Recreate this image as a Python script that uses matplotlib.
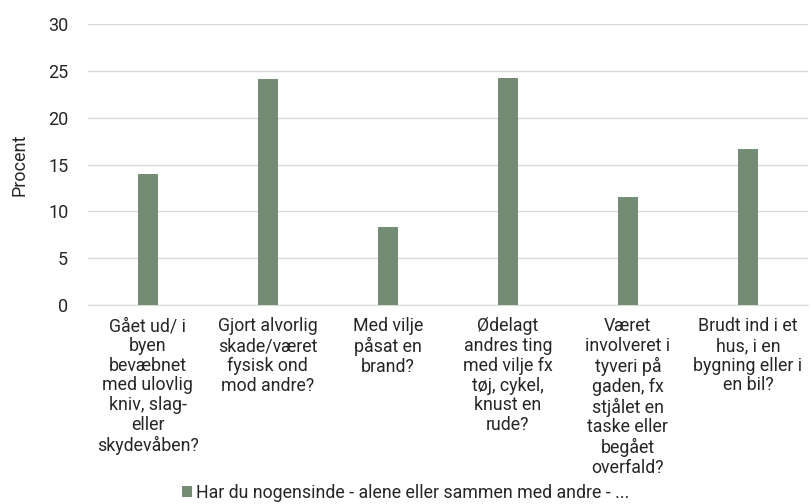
import matplotlib
matplotlib.use("Agg")
import matplotlib.pyplot as plt
from matplotlib.patches import Patch

categories = [
    "Gået ud/ i\nbyen\nbevæbnet\nmed ulovlig\nkniv, slag-\neller\nskydevåben?",
    "Gjort alvorlig\nskade/været\nfysisk ond\nmod andre?",
    "Med vilje\npåsat en\nbrand?",
    "Ødelagt\nandres ting\nmed vilje fx\ntøj, cykel,\nknust en\nrude?",
    "Været\ninvolveret i\ntyveri på\ngaden, fx\nstjålet en\ntaske eller\nbegået\noverfald?",
    "Brudt ind i et\nhus, i en\nbygning eller i\nen bil?",
]
values = [14.0, 24.1, 8.3, 24.2, 11.5, 16.7]
yticks = [0, 5, 10, 15, 20, 25, 30]
series_name = "Har du nogensinde - alene eller sammen med andre - ..."

bar_color = "#748c73"
text_color = "#262626"

plt.rcParams["font.family"] = ["Roboto", "DejaVu Sans"]

fig = plt.figure(figsize=(8.12, 5.04), dpi=100)
ax = fig.add_axes([0.108, 0.395, 0.887, 0.557])

x = list(range(len(categories)))
ax.bar(x, values, width=0.165, color=bar_color, zorder=3)

ax.set_ylim(0, 30)
ax.set_xlim(-0.5, len(categories) - 0.5)
ax.set_yticks(yticks)
ax.set_yticklabels([str(t) for t in yticks], fontsize=13, color=text_color)
ax.set_xticks(x)
ax.set_xticklabels(categories, fontsize=12.8, color=text_color, linespacing=1.12, va="top")
ax.tick_params(axis="both", length=0)
ax.tick_params(axis="x", pad=9)
ax.tick_params(axis="y", pad=14)
ax.grid(axis="y", color="#d9d9d9", linewidth=1, zorder=0)
for side in ("top", "right", "left"):
    ax.spines[side].set_visible(False)
ax.spines["bottom"].set_color("#d9d9d9")
ax.set_ylabel("Procent", fontsize=13, color=text_color, labelpad=14)

fig.legend(
    handles=[Patch(facecolor=bar_color, label=series_name)],
    loc="center",
    bbox_to_anchor=(0.5, 0.022),
    frameon=False,
    fontsize=12.8,
    handlelength=0.55,
    handleheight=0.55,
    handletextpad=0.25,
    labelcolor=text_color,
    borderpad=0,
)

fig.savefig("out.png", dpi=100)
